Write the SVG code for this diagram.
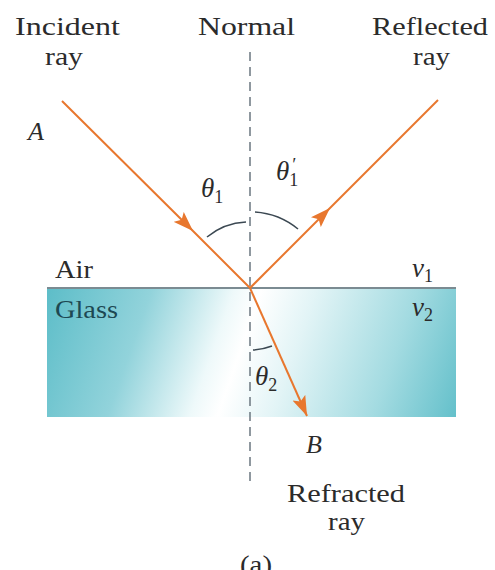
<svg xmlns="http://www.w3.org/2000/svg" width="495" height="570" viewBox="0 0 495 570">
  <style>
    .lbl { font-family: "Liberation Serif", "Times New Roman", serif; font-size: 25px; fill: #2b2b2b; }
    .it { font-family: "Liberation Serif", "Times New Roman", serif; font-style: italic; fill: #2b2b2b; }
    .ray { stroke: #e8772e; stroke-width: 2; fill: none; }
    .arc { stroke: #3b4852; stroke-width: 1.6; fill: none; }
  </style>
  <defs>
    <linearGradient id="glassGrad" gradientUnits="userSpaceOnUse" x1="47" y1="300" x2="456" y2="443">
      <stop offset="0" stop-color="#5fbec9"/>
      <stop offset="0.22" stop-color="#92d3db"/>
      <stop offset="0.40" stop-color="#eef9fa"/>
      <stop offset="0.46" stop-color="#ffffff"/>
      <stop offset="0.58" stop-color="#e2f4f6"/>
      <stop offset="0.8" stop-color="#a3dbe1"/>
      <stop offset="1" stop-color="#5dbdc8"/>
    </linearGradient>
    <marker id="arrow" viewBox="0 0 20 14" refX="20" refY="7" markerWidth="20" markerHeight="15" markerUnits="userSpaceOnUse" orient="auto">
      <path d="M0,0 L20,7 L0,14 L4,7 Z" fill="#e8772e"/>
    </marker>
  </defs>

  <g id="glass">
    <rect x="47" y="288" width="409" height="129" fill="url(#glassGrad)"/>
    <line x1="47" y1="288" x2="456" y2="288" stroke="#7b8b92" stroke-width="2"/>
  </g>

  <g id="normal">
    <line x1="250" y1="52" x2="250" y2="481" stroke="#6b7780" stroke-width="1.5" stroke-dasharray="9 6"/>
  </g>

  <g id="angles">
    <path class="arc" d="M207,237 A66,66 0 0 1 246,222"/>
    <path class="arc" d="M255,212 A76,76 0 0 1 298,229"/>
    <path class="arc" d="M253,350 A62,62 0 0 0 272,346"/>
  </g>

  <g id="connectors">
    <path id="incident" class="ray" d="M62,101 L193,231 L250,288" marker-mid="url(#arrow)"/>
    <path id="reflected" class="ray" d="M250,288 L330,208 L438,100" marker-mid="url(#arrow)"/>
    <path id="refracted" class="ray" d="M250,288 L307,416" marker-end="url(#arrow)"/>
  </g>

  <g id="labels">
    <text class="lbl" x="15" y="35" textLength="105" lengthAdjust="spacingAndGlyphs">Incident</text>
    <text class="lbl" x="45" y="65" textLength="38" lengthAdjust="spacingAndGlyphs">ray</text>
    <text class="lbl" x="198" y="35" textLength="97" lengthAdjust="spacingAndGlyphs">Normal</text>
    <text class="lbl" x="372" y="35" textLength="116" lengthAdjust="spacingAndGlyphs">Reflected</text>
    <text class="lbl" x="413" y="65" textLength="37" lengthAdjust="spacingAndGlyphs">ray</text>
    <text class="it" x="28" y="140" font-size="26">A</text>
    <text class="it" x="306" y="453" font-size="26">B</text>
    <text class="lbl" x="287" y="502" textLength="118" lengthAdjust="spacingAndGlyphs">Refracted</text>
    <text class="lbl" x="328" y="530" textLength="37" lengthAdjust="spacingAndGlyphs">ray</text>
    <text class="lbl" x="240" y="573" textLength="32" lengthAdjust="spacingAndGlyphs">(a)</text>
  </g>

  <g id="media">
    <text class="lbl" x="55" y="278" font-size="24" textLength="38" lengthAdjust="spacingAndGlyphs">Air</text>
    <text class="lbl" x="55" y="318" font-size="24" textLength="63" lengthAdjust="spacingAndGlyphs" style="fill:#1d4852">Glass</text>
    <text class="it" x="412" y="277" font-size="27">v<tspan font-size="18" dy="5" font-style="normal">1</tspan></text>
    <text class="it" x="412" y="316" font-size="27">v<tspan font-size="18" dy="5" font-style="normal">2</tspan></text>
  </g>

  <g id="theta-labels">
    <text class="it" x="201" y="197" font-size="27">θ<tspan font-size="18" dy="6" font-style="normal">1</tspan></text>
    <text class="it" x="276" y="180" font-size="27">θ<tspan font-size="18" dy="6" font-style="normal">1</tspan><tspan font-size="18" dx="-7" dy="-15">′</tspan></text>
    <text class="it" x="255" y="385" font-size="27">θ<tspan font-size="18" dy="6" font-style="normal">2</tspan></text>
  </g>
</svg>
